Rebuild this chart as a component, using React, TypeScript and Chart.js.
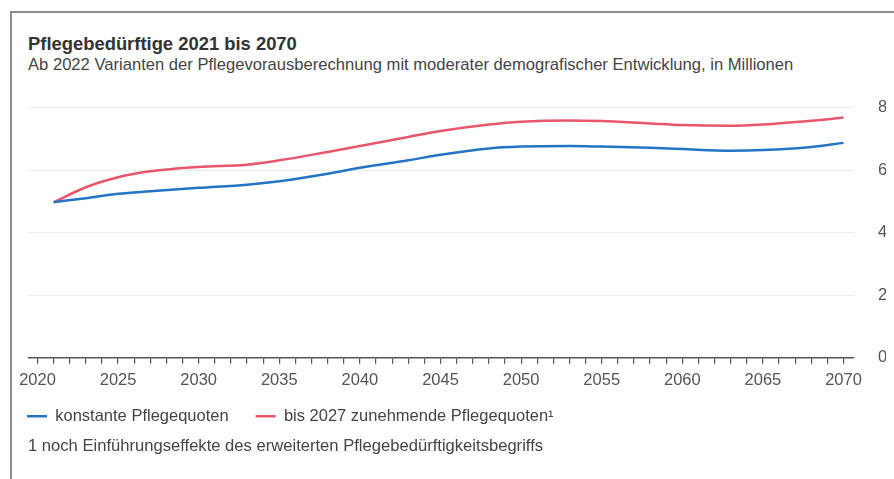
import { useEffect, useRef } from 'react';
import { Chart, registerables } from 'chart.js';

Chart.register(...registerables);

const TITLE = 'Pflegebedürftige 2021 bis 2070';
const SUBTITLE =
  'Ab 2022 Varianten der Pflegevorausberechnung mit moderater demografischer Entwicklung, in Millionen';
const FOOTNOTE = '1 noch Einführungseffekte des erweiterten Pflegebedürftigkeitsbegriffs';

const SERIES_LABELS = ['konstante Pflegequoten', 'bis 2027 zunehmende Pflegequoten¹'];
const YEARS = [2021, 2023, 2025, 2027, 2030, 2033, 2035, 2038, 2040, 2043, 2045, 2048, 2050, 2053, 2055, 2058, 2060, 2063, 2065, 2068, 2070];
const KONSTANT = [4.98, 5.11, 5.25, 5.33, 5.44, 5.54, 5.65, 5.89, 6.08, 6.32, 6.5, 6.7, 6.76, 6.78, 6.76, 6.72, 6.68, 6.63, 6.65, 6.75, 6.88];
const ZUNEHMEND = [4.98, 5.46, 5.78, 5.97, 6.11, 6.18, 6.32, 6.59, 6.78, 7.07, 7.26, 7.47, 7.56, 7.6, 7.58, 7.5, 7.45, 7.43, 7.47, 7.59, 7.69];
const X_FIRST_TICK = 2020;
const X_LAST_TICK = 2070;
const X_LABEL_EVERY = 5;
const Y_TICKS = [0, 2, 4, 6, 8];

const COLORS = ['#2474c6', '#e7566b'];
const FONT = '"Liberation Sans", Arial, Helvetica, sans-serif';
const FS = 16.5;

const legendPlacement = {
  id: 'legendPlacement',
  afterLayout(chart: any) {
    const lg = chart.legend;
    if (!lg) return;
    lg.left = -12;
    lg.top = 307;
  },
};

export default function App() {
  const ref = useRef<HTMLCanvasElement | null>(null);

  useEffect(() => {
    if (!ref.current) return;
    const toPoints = (vals: number[]) => YEARS.map((x, i) => ({ x, y: vals[i] }));
    const chart = new Chart(ref.current, {
      type: 'line',
      data: {
        datasets: [
          {
            label: SERIES_LABELS[0],
            data: toPoints(KONSTANT),
            borderColor: COLORS[0],
            backgroundColor: COLORS[0],
            borderWidth: 2.5,
            pointRadius: 0,
            cubicInterpolationMode: 'monotone',
            fill: false,
          },
          {
            label: SERIES_LABELS[1],
            data: toPoints(ZUNEHMEND),
            borderColor: COLORS[1],
            backgroundColor: COLORS[1],
            borderWidth: 2.5,
            pointRadius: 0,
            cubicInterpolationMode: 'monotone',
            fill: false,
          },
        ],
      },
      options: {
        animation: false,
        responsive: false,
        layout: { autoPadding: false, padding: { left: 13, right: 8, top: 28, bottom: 0 } },
        font: { family: FONT },
        scales: {
          x: {
            type: 'linear',
            min: 2019.45,
            max: 2070.65,
            afterBuildTicks: (scale: any) => {
              const t = [];
              for (let v = X_FIRST_TICK; v <= X_LAST_TICK; v++) t.push({ value: v });
              scale.ticks = t;
            },
            ticks: {
              autoSkip: false,
              maxRotation: 0,
              padding: 7,
              color: '#555',
              font: { family: FONT, size: FS },
              callback: (v: any) => (Number(v) % X_LABEL_EVERY === 0 ? String(v) : ''),
            },
            grid: {
              drawOnChartArea: false,
              drawTicks: true,
              tickLength: 6,
              color: '#555',
              lineWidth: 1.2,
            },
            border: { display: true, color: '#555', width: 1.5 },
          },
          y: {
            position: 'right',
            min: 0,
            max: 8,
            afterBuildTicks: (scale: any) => {
              scale.ticks = Y_TICKS.map((value) => ({ value }));
            },
            afterFit: (scale: any) => {
              scale.width = 32;
            },
            ticks: {
              padding: 24,
              color: '#555',
              font: { family: FONT, size: FS },
            },
            grid: { color: '#ebebeb', lineWidth: 1, drawTicks: false },
            border: { display: false },
          },
        },
        plugins: {
          legend: {
            position: 'bottom',
            align: 'start',
            labels: {
              usePointStyle: true,
              pointStyle: 'line',
              pointStyleWidth: 20,
              padding: 27,
              color: '#444',
              font: { family: FONT, size: FS },
            },
          },
          tooltip: { enabled: false },
        },
      },
      plugins: [legendPlacement],
    } as any);
    return () => chart.destroy();
  }, []);

  return (
    <div
      style={{
        position: 'absolute',
        left: 0,
        top: 0,
        width: 894,
        height: 479,
        background: '#fff',
        overflow: 'hidden',
        fontFamily: FONT,
      }}
    >
      <div
        style={{
          position: 'absolute',
          left: 10,
          top: 11,
          width: 900,
          height: 480,
          borderLeft: '2px solid #8f8f8f',
          borderTop: '2px solid #8f8f8f',
        }}
      />
      <div
        style={{
          position: 'absolute',
          left: 28,
          top: 33.6,
          fontSize: 18.4,
          lineHeight: '20px',
          fontWeight: 'bold',
          color: '#333',
          whiteSpace: 'nowrap',
        }}
      >
        {TITLE}
      </div>
      <div
        style={{
          position: 'absolute',
          left: 28,
          top: 54.75,
          fontSize: 16.6,
          lineHeight: '19px',
          color: '#444',
          whiteSpace: 'nowrap',
        }}
      >
        {SUBTITLE}
      </div>
      <canvas
        ref={ref}
        width={882}
        height={377}
        style={{ position: 'absolute', left: 12, top: 74, width: 882, height: 377 }}
      />
      <div
        style={{
          position: 'absolute',
          left: 28,
          top: 435.75,
          fontSize: 16.6,
          lineHeight: '19px',
          color: '#444',
          whiteSpace: 'nowrap',
        }}
      >
        {FOOTNOTE}
      </div>
    </div>
  );
}
